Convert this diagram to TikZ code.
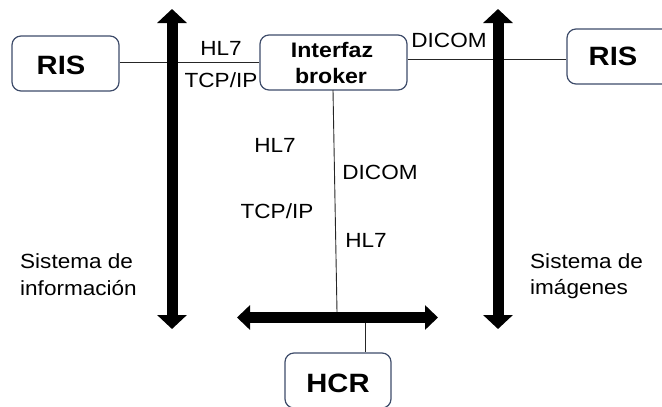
\documentclass[tikz,border=0pt]{standalone}
\usepackage{fontspec}
\setmainfont[FakeStretch=1.1]{Liberation Sans}
\usetikzlibrary{arrows.meta}
\definecolor{boxline}{HTML}{3E4C6A}
\begin{document}
\begin{tikzpicture}[x=1pt,y=-1pt,
  box/.style={draw=boxline,line width=1.2pt,rounded corners=9pt,inner sep=0pt},
  lbl/.style={font=\fontsize{20.5}{26}\selectfont,anchor=base,inner sep=0pt},
  lblw/.style={font=\fontsize{20.5}{26}\selectfont,anchor=base west,inner sep=0pt},
  btxt/.style={font=\fontsize{21}{26}\bfseries\selectfont,anchor=base,inner sep=0pt},
  big/.style={font=\fontsize{26.5}{30}\bfseries\selectfont,anchor=base,inner sep=0pt},
  thin/.style={draw=black!85,line width=0.9pt},
  bus/.style={line width=11pt,{Triangle[width=29pt,length=14pt]}-{Triangle[width=29pt,length=14pt]}},
  hbus/.style={line width=11pt,{Triangle[width=24pt,length=13pt]}-{Triangle[width=24pt,length=13pt]}}
]
\useasboundingbox (0,0) rectangle (662,407);
% boxes
\node[box,minimum width=107pt,minimum height=55pt] (risL) at (65.5,63.5) {};
\node[box,minimum width=147pt,minimum height=55pt] (ib) at (333.5,62.5) {};
\node[box,minimum width=106pt,minimum height=55pt] (risR) at (620,56.5) {};
\node[box,minimum width=106pt,minimum height=55pt] (hcr) at (338,380.5) {};
% box texts
\node[big] (risLt) at (61,74) {RIS};
\node[big] (risRt) at (613,65) {RIS};
\node[big] (hcrt) at (338,392) {HCR};
\node[btxt] (ib1) at (332,57) {Interfaz};
\node[btxt] (ib2) at (331,83) {broker};
% thick buses
\coordinate (lt) at (172,9);
\coordinate (lb) at (172,329);
\coordinate (rt) at (498,9);
\coordinate (rb) at (498,329);
\coordinate (hl) at (237,317.5);
\coordinate (hr) at (438,317.5);
% thin connectors
\draw[thin] (risL.east |- 0,62) -- (ib.west |- 0,62);
\draw[thin] (ib.east |- 0,59) -- (risR.west |- 0,59);
\coordinate (ibb) at (333,90);
\coordinate (busTop) at (337,312);
\draw[thin] (ibb) -- (busTop);
\coordinate (busBot) at (365,323);
\draw[thin] (busBot) -- (hcr.north -| busBot);
\draw[bus] (lt) -- (lb);
\draw[bus] (rt) -- (rb);
\draw[hbus] (hl) -- (hr);
% labels
\node[lbl] (t1) at (221,55) {HL7};
\node[lbl] (t2) at (221,87) {TCP/IP};
\node[lbl] (t3) at (449,47) {DICOM};
\node[lbl] (t4) at (275,152) {HL7};
\node[lbl] (t5) at (380,179) {DICOM};
\node[lbl] (t6) at (277,218) {TCP/IP};
\node[lbl] (t7) at (366,247) {HL7};
\node[lblw] (s1) at (20,268) {Sistema de};
\node[lblw] (s2) at (20,295) {información};
\node[lblw] (s3) at (530,268) {Sistema de};
\node[lblw] (s4) at (530,294) {imágenes};
\end{tikzpicture}
\end{document}
